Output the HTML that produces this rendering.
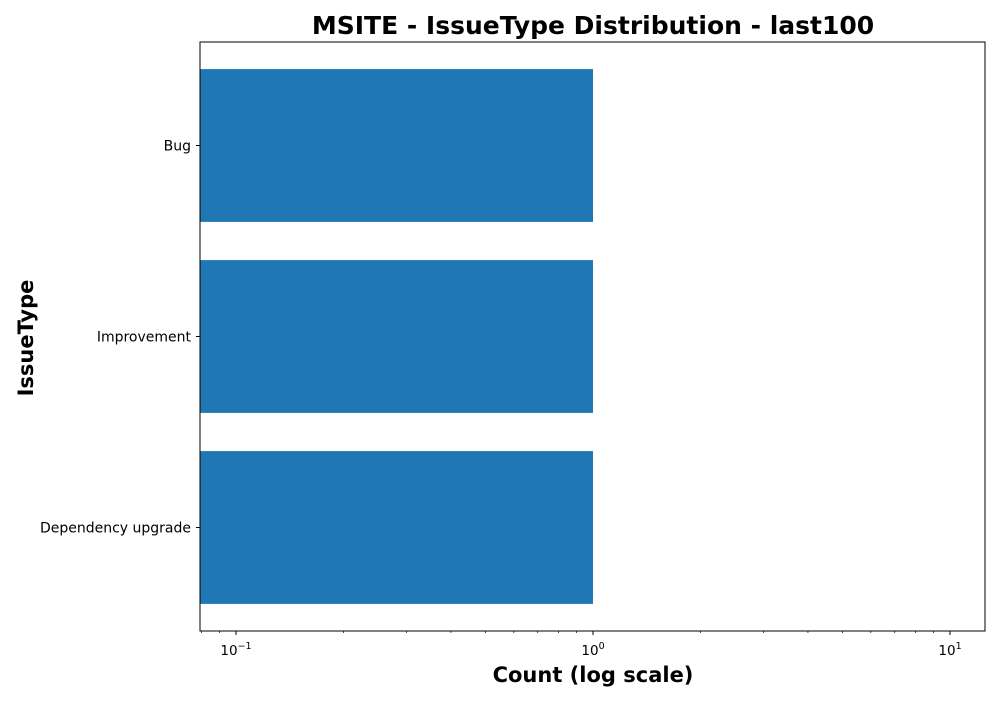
<!DOCTYPE html>
<html><head><meta charset="utf-8"><style>
body{margin:0;background:#fff;font-family:"DejaVu Sans","Liberation Sans",sans-serif;}
</style></head><body>
<svg id="chart" width="1000" height="700" xmlns="http://www.w3.org/2000/svg" font-family="DejaVu Sans, Liberation Sans, sans-serif">
<text x="593" y="34" text-anchor="middle" font-size="25" font-weight="bold">MSITE - IssueType Distribution - last100</text>
<g id="bars"></g>
<rect x="200" y="42" width="785" height="589" fill="none" stroke="#000" stroke-width="1"/>
<g id="xticks"></g><g id="yticks"></g>
<text x="593" y="682" text-anchor="middle" font-size="21" font-weight="bold">Count (log scale)</text>
<text transform="translate(33,338) rotate(-90)" text-anchor="middle" font-size="21" font-weight="bold">IssueType</text>
</svg>
<script>
const categories=["Bug","Improvement","Dependency upgrade"];
const counts=[1,1,1];
const majorTicks=[-1,0,1];
const ns="http://www.w3.org/2000/svg";
const L=200,R=985,T=42,B=631,lmin=-1.1008,lmax=1.098;
function xs(v){return L+(Math.log10(v)-lmin)/(lmax-lmin)*(R-L);}
const unit=191;
function ys(i){return 145.5+i*unit;}
function mk(t,a,p){const e=document.createElementNS(ns,t);for(const k in a)e.setAttribute(k,a[k]);p.appendChild(e);return e;}
const gb=document.getElementById('bars'),gx=document.getElementById('xticks'),gy=document.getElementById('yticks');
categories.forEach((c,i)=>{
  const cy=ys(i);
  const r=mk('rect',{x:L,y:cy-0.4*unit,width:xs(counts[i])-L,height:0.8*unit,fill:'#1f77b4'},gb);
  
  
  mk('line',{x1:L,x2:L-4,y1:cy,y2:cy,stroke:'#000'},gy);
  const t=mk('text',{x:L-9,y:cy+5,'text-anchor':'end','font-size':14},gy);
  t.textContent=c;
  
  
});
for(let d=-2;d<=1;d++)for(let m=1;m<10;m++){
  const v=m*Math.pow(10,d);const x=xs(v);if(x<L-0.5||x>R+0.5)continue;
  mk('line',{x1:x,x2:x,y1:B,y2:B+(m===1?4:2),stroke:'#000','stroke-width':m===1?1:0.7},gx);
}
majorTicks.forEach(p=>{
  const x=xs(Math.pow(10,p));
  const t=mk('text',{x:x,y:B+24,'text-anchor':'middle','font-size':13.5},gx);
  t.innerHTML='10<tspan dy="-6" font-size="9.5">'+(p<0?'\u2212'+(-p):p)+'</tspan>';
  
  
});
</script>
</body></html>
